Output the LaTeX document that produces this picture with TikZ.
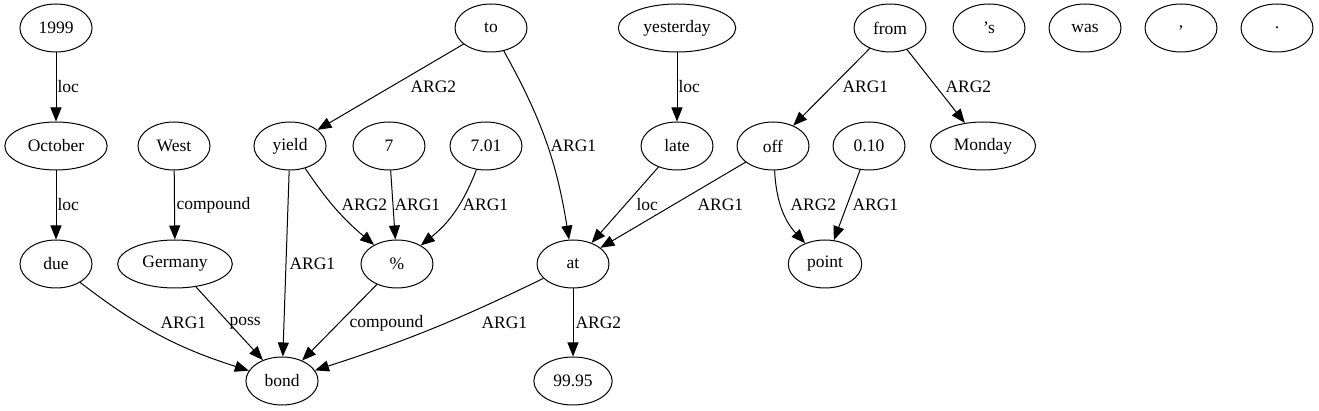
\documentclass[tikz,border=0pt]{standalone}
\usepackage{fontspec}
\setmainfont{Liberation Serif}
\usepackage{tikz}
\usetikzlibrary{shapes.geometric}
\usetikzlibrary{arrows.meta}
\tikzset{word/.style={draw, ellipse, minimum width=72pt, minimum height=48pt,
        inner xsep=8pt, line width=1pt},
    rel/.style={anchor=west, inner sep=0pt},
    dep/.style={draw, line width=1pt, -{Triangle[length=14pt,width=11pt]}}}

\begin{document}
\begin{tikzpicture}[x=1pt, y=-1pt, font=\fontsize{17.5}{21}\selectfont]
\useasboundingbox (0,0) rectangle (1319,411);
% first rank
\node[word] (n1999) at (56,28) {1999};
\node[word] (to) at (491,28) {to};
\node[word] (yesterday) at (677,28) {yesterday};
\node[word] (from) at (890,28) {from};
\node[word] (aps) at (989,28) {’s};
\node[word] (was) at (1085,28) {was};
\node[word] (comma) at (1181,28) {,};
\node[word] (stop) at (1277,28) {.};
% second rank
\node[word] (october) at (56,146) {October};
\node[word] (west) at (174,146) {West};
\node[word] (yield) at (290,146) {yield};
\node[word] (n7) at (389,146) {7};
\node[word] (n701) at (486,146) {7.01};
\node[word] (late) at (677,146) {late};
\node[word] (off) at (773,146) {off};
\node[word] (n010) at (869,146) {0.10};
\node[word] (monday) at (983,146) {Monday};
% third rank
\node[word] (due) at (56,264) {due};
\node[word] (germany) at (175,264) {Germany};
\node[word] (pct) at (397,264) {\%};
\node[word] (at) at (573,264) {at};
\node[word] (point) at (825,264) {point};
% fourth rank
\node[word] (bond) at (282,381) {bond};
\node[word] (n9995) at (573,381) {99.95};

\draw[dep] (n1999) -- (october) node[rel] at (57,87) {loc};
\draw[dep] (october) -- (due) node[rel] at (57,205) {loc};
\draw[dep] (west) -- (germany) node[rel] at (176,205) {compound};
\draw[dep] (to) -- (yield) node[rel] at (410,87) {ARG2};
\draw[dep] (to) to[bend left=10] (at) node[rel] at (550,146) {ARG1};
\draw[dep] (yesterday) -- (late) node[rel] at (678,87) {loc};
\draw[dep] (from) -- (off) node[rel] at (842,87) {ARG1};
\draw[dep] (from) -- (monday) node[rel] at (945,87) {ARG2};
\draw[dep] (yield) -- (bond) node[rel] at (289,264) {ARG1};
\draw[dep] (yield) to[bend right=8] (pct) node[rel] at (341,205) {ARG2};
\draw[dep] (n7) -- (pct) node[rel] at (394,205) {ARG1};
\draw[dep] (n701) to[bend left=15] (pct) node[rel] at (462,205) {ARG1};
\draw[dep] (late) -- (at) node[rel] at (636,205) {loc};
\draw[dep] (off) -- (at) node[rel] at (697,205) {ARG1};
\draw[dep] (off) to[bend right=20] (point) node[rel] at (790,205) {ARG2};
\draw[dep] (n010) -- (point) node[rel] at (852,205) {ARG1};
\draw[dep] (due) to[bend right=10] (bond) node[rel] at (160,323) {ARG1};
\draw[dep] (germany) -- (bond) node[rel] at (229,323) {poss};
\draw[dep] (pct) -- (bond) node[rel] at (349,323) {compound};
\draw[dep] (at) to[bend left=4] (bond) node[rel] at (481,323) {ARG1};
\draw[dep] (at) -- (n9995) node[rel] at (575,323) {ARG2};
\end{tikzpicture}
\end{document}
